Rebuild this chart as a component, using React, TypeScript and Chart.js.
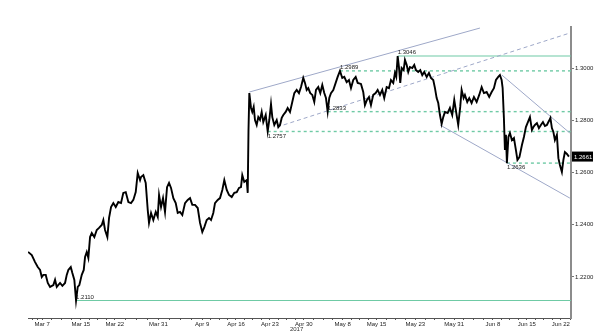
import React, { useEffect, useRef } from 'react';
import { Chart, registerables } from 'chart.js';

Chart.register(...registerables);

// x = days since 1 Mar 2017, y = price
const priceDays = [
  3.11, 3.88, 4.56, 5.11, 5.59, 5.94, 6.27, 6.76, 7.18, 7.65, 8.33, 8.68, 9.03, 9.71, 10.19, 10.74,
  11.09, 11.42, 11.92, 12.25, 12.66, 13.01, 13.36, 13.69, 14.19, 14.6, 14.87, 15.22, 15.55, 15.9,
  16.25, 16.78, 17.28, 17.75, 18.31, 18.64, 18.99, 19.47, 19.82, 20.23, 20.7, 21.2, 21.73, 22.29,
  22.76, 23.26, 23.8, 24.35, 24.83, 25.32, 25.73, 26.21, 26.41, 26.89, 27.38, 27.8, 28.06, 28.48,
  28.95, 29.45, 29.86, 30.13, 30.54, 30.95, 31.36, 31.78, 32.19, 32.6, 33.08, 33.57, 33.98, 34.46,
  34.93, 35.49, 36.04, 36.52, 36.99, 37.55, 38.11, 38.58, 39.05, 39.47, 39.96, 40.44, 40.85, 41.32,
  41.67, 42.23, 42.7, 43.18, 43.59, 44.09, 44.56, 45.12, 45.65, 46.15, 46.62, 47.03, 47.3, 47.71,
  48.21, 48.42, 48.58, 48.75, 49.1, 49.36, 49.65, 49.92, 50.27, 50.6, 50.95, 51.3, 51.63, 52.13,
  52.54, 52.87, 53.22, 53.49, 53.9, 54.4, 54.73, 55.08, 55.43, 55.76, 56.25, 56.66, 57.14, 57.61,
  58.03, 58.52, 58.99, 59.41, 59.88, 60.23, 60.58, 60.91, 61.32, 61.74, 62.15, 62.5, 62.97, 63.39,
  63.8, 64.21, 64.56, 64.91, 65.24, 65.59, 66.07, 66.56, 66.97, 67.45, 67.92, 68.34, 68.83, 69.3,
  69.72, 70.19, 70.69, 71.1, 71.78, 72.25, 72.6, 73.01, 73.43, 73.84, 74.31, 74.81, 75.22, 75.7,
  76.17, 76.58, 77.08, 77.55, 77.96, 78.44, 78.79, 79.06, 79.35, 79.61, 79.88, 80.17, 80.58, 80.85,
  81.2, 81.53, 81.88, 82.36, 82.77, 83.12, 83.59, 84.01, 84.42, 84.83, 85.33, 85.8, 86.21, 86.69,
  87.04, 87.39, 87.72, 88.07, 88.42, 88.75, 89.1, 89.66, 90.13, 90.6, 91.02, 91.51, 91.84, 92.25,
  92.54, 92.95, 93.22, 93.7, 94.11, 94.6, 95.08, 95.64, 96.17, 96.67, 97.14, 97.7, 98.23, 98.73,
  99.2, 99.62, 100.09, 100.44, 100.79, 101.0, 101.26, 101.47, 101.68, 101.88, 102.19, 102.5, 102.91,
  103.33, 103.74, 104.05, 104.46, 104.98, 105.39, 105.8, 106.21, 106.63, 107.04, 107.35, 107.66,
  108.07, 108.48, 108.89, 109.31, 109.72, 110.13, 110.54, 110.85, 111.16, 111.47, 111.78, 112.19,
  112.5, 112.81, 113.22, 113.53, 113.84, 114.26, 114.67,
];
const priceValues = [
  1.2296, 1.2284, 1.2257, 1.2238, 1.2227, 1.22, 1.2208, 1.2208, 1.2177, 1.2162, 1.2169, 1.2189, 1.2162, 1.2177, 1.2166, 1.2177,
  1.2208, 1.2227, 1.2238, 1.2215, 1.2189, 1.211, 1.2162, 1.2169, 1.2208, 1.2227, 1.2277, 1.2296, 1.2273, 1.2353,
  1.2368, 1.2353, 1.238, 1.2388, 1.2399, 1.2418, 1.238, 1.2353, 1.2426, 1.2468, 1.2483, 1.2468, 1.2487, 1.2483,
  1.2522, 1.2525, 1.2487, 1.2483, 1.2495, 1.2525, 1.2598, 1.2571, 1.2583, 1.259, 1.256, 1.2456, 1.2407, 1.2445,
  1.2418, 1.2449, 1.243, 1.2514, 1.2468, 1.2502, 1.2449, 1.2544, 1.256, 1.2541, 1.2502, 1.2483, 1.2445, 1.2449,
  1.2437, 1.2483, 1.2495, 1.2502, 1.2476, 1.2476, 1.2464, 1.2407, 1.2372, 1.2391, 1.2418, 1.2426, 1.2418, 1.2445,
  1.2483, 1.2495, 1.2502, 1.2533, 1.2571, 1.2533, 1.2514, 1.2506, 1.2522, 1.2525, 1.2541, 1.2544, 1.259, 1.2564,
  1.2571, 1.2522, 1.2763, 1.2904, 1.2847, 1.2832, 1.2851, 1.2801, 1.2782, 1.2812, 1.2801, 1.2832, 1.2793, 1.282,
  1.2757, 1.2801, 1.2862, 1.2812, 1.2782, 1.2801, 1.2774, 1.2782, 1.2809, 1.282, 1.2832, 1.2847, 1.2832, 1.287,
  1.2904, 1.2916, 1.2904, 1.2927, 1.2962, 1.2943, 1.2916, 1.2923, 1.2904, 1.2897, 1.287, 1.2916, 1.2927, 1.2904,
  1.2935, 1.2904, 1.2885, 1.2833, 1.2885, 1.2904, 1.2916, 1.2943, 1.2966, 1.2989, 1.2962, 1.2966, 1.2946, 1.2954,
  1.2923, 1.2954, 1.2966, 1.2943, 1.2939, 1.2908, 1.2858, 1.2878, 1.2889, 1.2858, 1.2897, 1.2904, 1.2916, 1.2897,
  1.2916, 1.2885, 1.2927, 1.2923, 1.2954, 1.2943, 1.2981, 1.2966, 1.3046, 1.3004, 1.2943, 1.3, 1.2992, 1.3031,
  1.3012, 1.2985, 1.3004, 1.3, 1.3012, 1.2992, 1.2985, 1.2992, 1.2973, 1.2985, 1.2966, 1.2981, 1.2962, 1.2954,
  1.2923, 1.2885, 1.2866, 1.282, 1.2786, 1.2812, 1.2832, 1.2828, 1.2847, 1.282, 1.2878, 1.282, 1.2782, 1.2851,
  1.2916, 1.2885, 1.2897, 1.287, 1.2885, 1.2866, 1.2889, 1.287, 1.2897, 1.2927, 1.2904, 1.2908, 1.2889, 1.2908,
  1.2923, 1.2954, 1.2966, 1.2973, 1.2954, 1.2923, 1.2809, 1.2686, 1.2744, 1.2636, 1.2736, 1.2751, 1.2724,
  1.2732, 1.2686, 1.2648, 1.2659, 1.2705, 1.2736, 1.2774, 1.2793, 1.2812, 1.2763, 1.2774, 1.2782,
  1.2789, 1.277, 1.2782, 1.2793, 1.2778, 1.2782, 1.2797, 1.2809, 1.277, 1.2755, 1.2724, 1.2744,
  1.2655, 1.2629, 1.2602, 1.2648, 1.2678, 1.2671, 1.2661,
];

const xTickDays = [6, 14, 21, 30, 39, 46, 53, 60, 68, 75, 83, 91, 99, 106, 113];
const xTickLabels = ['Mar 7', 'Mar 15', 'Mar 22', 'Mar 31', 'Apr 9', 'Apr 16', 'Apr 23', 'Apr 30', 'May 8', 'May 15', 'May 23', 'May 31', 'Jun 8', 'Jun 15', 'Jun 22'];
const yTickValues = [1.22, 1.24, 1.26, 1.28, 1.3];

// horizontal support / resistance levels
const levelValues = [1.3046, 1.2989, 1.2833, 1.2757, 1.2636, 1.211];
const levelStartDays = [79.35, 67.45, 64.91, 52.54, 101.88, 13.01];
const levelDashed = [false, true, true, true, true, false];
const levelLabelBelow = [false, false, false, true, true, false];

// trend / channel lines
const trendStartDays = [48.75, 54.46, 100.85, 88.07];
const trendStartValues = [1.2908, 1.2774, 1.2973, 1.2782];
const trendEndDays = [96.32, 114.87, 114.87, 114.87];
const trendEndValues = [1.3153, 1.3134, 1.2751, 1.2502];
const trendDashed = [false, true, false, false];

const lastPrice = 1.2661;
const yearLabel = '2017';
const yearLabelDay = 58.5;

const X_MIN = 3.1;
const X_MAX = 115.1;
const Y_MIN = 1.2043;
const Y_MAX = 1.3157;

const LEVEL_COLOR = '#6fcaa5';
const TREND_COLOR = '#9ea8c8';
const FONT = '"Liberation Sans", Arial, sans-serif';

const overlayPlugin = {
  id: 'overlayLabels',
  afterDatasetsDraw(chart: any) {
    const { ctx, chartArea } = chart;
    const x = chart.scales.x;
    const y = chart.scales.y;
    ctx.save();
    ctx.font = `6px ${FONT}`;
    ctx.fillStyle = '#222';
    ctx.textAlign = 'left';
    levelValues.forEach((v, i) => {
      const px = x.getPixelForValue(levelStartDays[i]);
      const py = y.getPixelForValue(v);
      if (levelLabelBelow[i]) {
        ctx.textBaseline = 'top';
        ctx.fillText(v.toFixed(4), px, py + 1.5);
      } else {
        ctx.textBaseline = 'bottom';
        ctx.fillText(v.toFixed(4), px, py - 0.5);
      }
    });
    // last price tag
    const lp = y.getPixelForValue(lastPrice);
    ctx.fillStyle = '#000';
    ctx.fillRect(chartArea.right + 1, lp - 5, 21, 10);
    ctx.fillStyle = '#fff';
    ctx.textBaseline = 'middle';
    ctx.fillText(lastPrice.toFixed(4), chartArea.right + 3, lp + 0.5);
    // year under the date axis
    ctx.fillStyle = '#333';
    ctx.textAlign = 'center';
    ctx.textBaseline = 'top';
    ctx.fillText(yearLabel, x.getPixelForValue(yearLabelDay), chartArea.bottom + 8);
    ctx.restore();
  },
};

export default function App() {
  const canvasRef = useRef<HTMLCanvasElement | null>(null);

  useEffect(() => {
    if (!canvasRef.current) return;
    const datasets: any[] = [
      {
        data: priceDays.map((d, i) => ({ x: d, y: priceValues[i] })),
        borderColor: '#000',
        borderWidth: 1.9,
        pointRadius: 0,
        tension: 0,
      },
    ];
    trendStartDays.forEach((d, i) => {
      datasets.push({
        data: [
          { x: d, y: trendStartValues[i] },
          { x: trendEndDays[i], y: trendEndValues[i] },
        ],
        borderColor: TREND_COLOR,
        borderWidth: 1,
        borderDash: trendDashed[i] ? [4, 3] : [],
        pointRadius: 0,
      });
    });
    levelValues.forEach((v, i) => {
      datasets.push({
        data: [
          { x: levelStartDays[i], y: v },
          { x: X_MAX, y: v },
        ],
        borderColor: LEVEL_COLOR,
        borderWidth: levelDashed[i] ? 1.4 : 1.2,
        borderDash: levelDashed[i] ? [3, 3] : [],
        pointRadius: 0,
      });
    });

    const chart = new Chart(canvasRef.current, {
      type: 'line',
      data: { datasets },
      options: {
        animation: false,
        responsive: true,
        maintainAspectRatio: false,
        layout: { padding: { left: 28, top: 27, right: 0, bottom: 0 } },
        plugins: { legend: { display: false }, tooltip: { enabled: false } },
        font: { family: FONT },
        scales: {
          x: {
            type: 'linear',
            min: X_MIN,
            max: X_MAX,
            afterBuildTicks: (s: any) => {
              const vals: number[] = [4, 5];
              xTickDays.forEach((d, i) => {
                vals.push(d);
                const next = xTickDays[i + 1];
                if (next !== undefined) {
                  vals.push(d + (next - d) / 4, d + (next - d) / 2, d + (3 * (next - d)) / 4);
                }
              });
              vals.push(115);
              s.ticks = vals.sort((a, b) => a - b).map((v) => ({ value: v }));
            },
            afterFit: (s: any) => {
              s.height = 17;
            },
            grid: { drawOnChartArea: false, drawTicks: true, tickLength: 2, color: '#555' },
            border: { display: true, color: '#555', width: 1 },
            ticks: {
              autoSkip: false,
              maxRotation: 0,
              minRotation: 0,
              padding: 1,
              color: '#222',
              font: { size: 6, family: FONT },
              callback: (v: any) => {
                const idx = xTickDays.indexOf(Number(v));
                return idx >= 0 ? xTickLabels[idx] : '';
              },
            },
          },
          y: {
            position: 'right',
            min: Y_MIN,
            max: Y_MAX,
            afterBuildTicks: (s: any) => {
              s.ticks = yTickValues.map((v) => ({ value: v }));
            },
            afterFit: (s: any) => {
              s.width = 29;
            },
            grid: { drawOnChartArea: false, drawTicks: true, tickLength: 3, color: '#777' },
            border: { display: true, color: '#8c8c8c', width: 2 },
            ticks: {
              padding: 1,
              color: '#222',
              font: { size: 6, family: FONT },
              callback: (v: any) => Number(v).toFixed(4),
            },
          },
        },
      },
      plugins: [overlayPlugin],
    });
    return () => chart.destroy();
  }, []);

  return (
    <div style={{ position: 'fixed', left: 0, top: 0, width: 600, height: 335, background: '#fff' }}>
      <canvas ref={canvasRef} />
    </div>
  );
}
